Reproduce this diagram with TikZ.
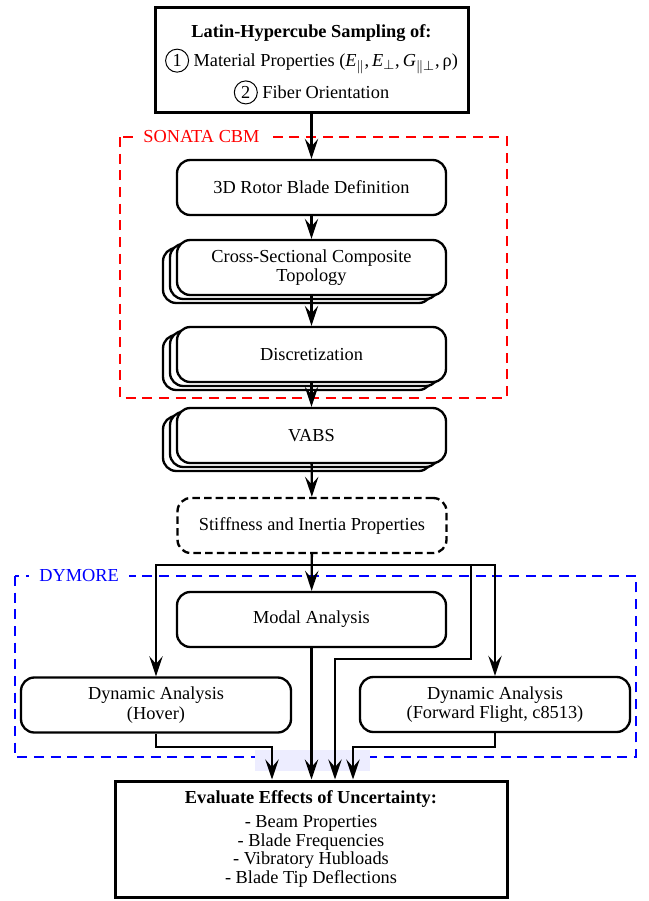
\documentclass[tikz,border=0pt]{standalone}
\usepackage{fontspec}
\setmainfont{Liberation Serif}
\usetikzlibrary{arrows.meta,shadows}

\newcommand{\circnum}[1]{\tikz[baseline=(cn.base)]\node[circle,draw,line width=0.6pt,inner sep=0pt,minimum size=13.8pt] (cn) {#1};}

\tikzset{
  blk/.style={draw, fill=white, line width=1.4pt, rounded corners=8pt,
    minimum width=161.4pt, minimum height=33pt, align=center,
    font=\fontsize{11}{11.5}\selectfont},
  stackblk/.style={blk, double copy shadow={shadow xshift=-4.2pt, shadow yshift=-2.4pt}},
  datablk/.style={blk, dash pattern=on 4.5pt off 2.5pt},
  bigblk/.style={draw, fill=white, line width=1.8pt, align=center,
    font=\fontsize{11}{11.2}\selectfont},
  arr/.style={-{Stealth[length=12pt,width=8pt,inset=4.5pt]}, line width=1.4pt},
  grp/.style={line width=1.5pt, dash pattern=on 6pt off 4pt},
  grplbl/.style={fill=white, inner xsep=6pt, inner ysep=1pt, anchor=west,
    font=\fontsize{11}{11}\selectfont}
}

\begin{document}
\begin{tikzpicture}[x=0.6pt,y=-0.6pt]
\useasboundingbox (0,0) rectangle (649,901);

% groups
\draw[grp, red] (120,137) rectangle (507,398);
\node[grplbl, text=red] (sonatalbl) at (133,137) {SONATA CBM};
\draw[grp, blue] (15,576) rectangle (636,757);
\node[grplbl, text=blue] (dymorelbl) at (29,576) {DYMORE};
\fill[blue!7] (255,750) rectangle (370,771);

% blocks
\node[bigblk, minimum width=187.8pt, minimum height=63pt] (lhs) at (311.5,59.5)
  {\rule{0pt}{14pt}\textbf{Latin-Hypercube Sampling of:}\\[3pt]
   \circnum{1} Material Properties (\textit{E}$_{\parallel}$,\,\textit{E}$_{\perp}$,\,\textit{G}$_{\parallel\perp}$,\,ρ)\\[3pt]
   \circnum{2} Fiber Orientation};
\node[blk] (rotor) at (311.5,187.5) {3D Rotor Blade Definition};
\node[stackblk] (topo) at (311.5,267.5) {Cross-Sectional Composite\\Topology};
\node[stackblk] (discr) at (311.5,354.5) {Discretization};
\node[stackblk] (vabs) at (311.5,435.5) {VABS};
\node[datablk] (stiff) at (312,525.5) {Stiffness and Inertia Properties};
\node[blk] (modal) at (311.5,619.5) {Modal Analysis};
\node[blk, minimum width=162pt] (hover) at (156,705) {Dynamic Analysis\\(Hover)};
\node[blk, minimum width=162pt] (fwd) at (495,704.5) {Dynamic Analysis\\(Forward Flight, c8513)};
\node[bigblk, minimum width=235.2pt, minimum height=69.6pt] (evalunc) at (311,839)
  {\textbf{Evaluate Effects of Uncertainty:}\\[3pt]
   - Beam Properties\\
   - Blade Frequencies\\
   - Vibratory Hubloads\\
   - Blade Tip Deflections};

% connectors
\coordinate (split) at (312,565);
\coordinate (bypass) at (471,659);
\coordinate (bypassjoin) at (335,659);
\coordinate (hovjoin) at (272,747);
\coordinate (fwdjoin) at (353,747);

\draw[arr] (lhs) -- (rotor);
\draw[arr] (rotor) -- (topo);
\draw[arr] (topo) -- (discr);
\draw[arr] (discr) -- (vabs);
\draw[arr] (vabs) -- (stiff);
\draw[arr] (stiff) -- (modal);
\draw[arr] (split) -| (hover.north);
\draw[arr] (split) -| (fwd.north);
\draw[arr] (split) -| (bypass) -- (bypassjoin) -- (bypassjoin |- evalunc.north);
\draw[arr] (modal) -- (modal.south |- evalunc.north);
\draw[arr] (hover.south) |- (hovjoin) -- (hovjoin |- evalunc.north);
\draw[arr] (fwd.south) |- (fwdjoin) -- (fwdjoin |- evalunc.north);
\end{tikzpicture}
\end{document}
